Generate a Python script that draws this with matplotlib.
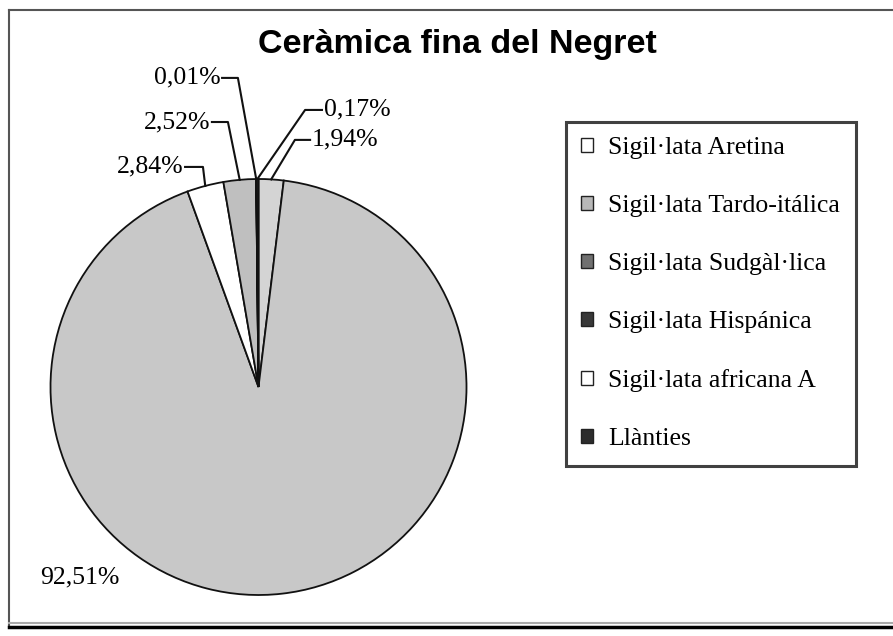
import numpy as np
import matplotlib.pyplot as plt
from matplotlib.patches import Patch
from matplotlib.lines import Line2D

# data, slices clockwise from 12 o'clock
categories = ["Sigil·lata Aretina", "Sigil·lata Tardo-itálica", "Sigil·lata Sudgàl·lica",
              "Sigil·lata Hispánica", "Sigil·lata africana A", "Llànties"]
values = [1.94, 92.51, 2.84, 2.52, 0.01, 0.17]
pct_labels = ["1,94%", "92,51%", "2,84%", "2,52%", "0,01%", "0,17%"]

slice_colors = ["#d4d4d4", "#c8c8c8", "#ffffff", "#bfbfbf", "#202020", "#202020"]
legend_colors = ["#ffffff", "#b8b8b8", "#707070", "#383838", "#ffffff", "#2c2c2c"]

# label placement: (text x, elbow x, y, ha) ; None = no leader line
label_pos = [(0.248, 0.175, 1.188, "left"),
             (-0.861, None, -0.918, "center"),
             (-0.353, -0.267, 1.058, "right"),
             (-0.224, -0.147, 1.274, "right"),
             (-0.175, -0.099, 1.486, "right"),
             (0.305, 0.224, 1.332, "left")]

W, H = 893, 636
cx, cy, rpx = 258.5, 387, 208

fig = plt.figure(figsize=(W / 100, H / 100), dpi=100)
ax = fig.add_axes([0, 0, 1, 1])
ax.axis("off")

wedges, _ = ax.pie(values, colors=slice_colors, startangle=90, counterclock=False,
                   radius=1, wedgeprops=dict(edgecolor="#111111", linewidth=1.3))
ax.set_xlim(-cx / rpx, (W - cx) / rpx)
ax.set_ylim((cy - H) / rpx, cy / rpx)
ax.set_aspect("auto")

serif = ["Liberation Serif", "DejaVu Serif"]
for w, lab, (tx, ex, ty, ha) in zip(wedges, pct_labels, label_pos):
    mid = np.deg2rad((w.theta1 + w.theta2) / 2)
    px, py = np.cos(mid), np.sin(mid)
    if ex is not None:
        ax.plot([tx, ex, px], [ty, ty, py], color="#111111", lw=1.5)
        off = -0.008 if ha == "right" else 0.008
        ax.text(tx + off, ty, lab, ha=ha, va="center", fontsize=18.5, family=serif)
    else:
        ax.text(tx, ty, lab, ha=ha, va="center", fontsize=18.5, family=serif)

fig.text(457 / W, 1 - 44 / H, "Ceràmica fina del Negret", ha="center", va="center",
         fontsize=24.5, fontweight="bold", family=["Liberation Sans", "DejaVu Sans"])

handles = [Patch(facecolor=c, edgecolor="#222222", linewidth=1) for c in legend_colors]
leg = fig.legend(handles, categories, loc="upper left",
                 bbox_to_anchor=(566 / W, 1 - 122 / H), frameon=True, fancybox=False,
                 prop=dict(family=serif, size=18.5), labelspacing=1.4,
                 handlelength=0.45, handleheight=0.45, handletextpad=0.6,
                 borderpad=0.6, borderaxespad=0)
leg.get_frame().set_edgecolor("#111111")
leg.get_frame().set_linewidth(2.2)

# outer frame of the chart area
fig.add_artist(Line2D([9 / W, 9 / W], [1 - 10 / H, 1 - 627 / H], color="#555555", lw=1.5))
fig.add_artist(Line2D([9 / W, 1], [1 - 10 / H, 1 - 10 / H], color="#555555", lw=1.5))
fig.add_artist(Line2D([9 / W, 1], [1 - 623 / H, 1 - 623 / H], color="#aaaaaa", lw=1.5))
fig.add_artist(Line2D([9 / W, 1], [1 - 627 / H, 1 - 627 / H], color="#000000", lw=2.5))

fig.savefig("out.png", dpi=100)
